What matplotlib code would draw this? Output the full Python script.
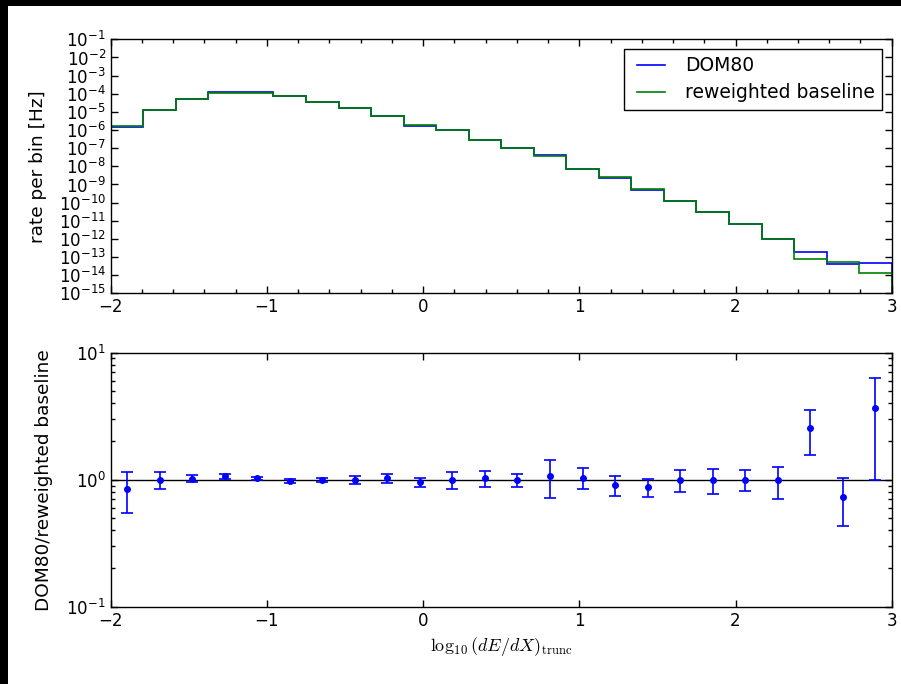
import numpy as np
import matplotlib
matplotlib.use("Agg")
import matplotlib.pyplot as plt
from matplotlib.patches import Rectangle
from matplotlib.lines import Line2D
from matplotlib.legend_handler import HandlerLine2D
from matplotlib.ticker import MultipleLocator, LogLocator, NullLocator

plt.rcParams["mathtext.fontset"] = "cm"
plt.rcParams["font.size"] = 12

# 24 bins of log10(dE/dX)_trunc between -2 and 3
bin_edges = np.linspace(-2, 3, 25)
bin_centers = 0.5 * (bin_edges[:-1] + bin_edges[1:])

dom80_rate = [1.5e-6, 1.2e-5, 5.0e-5, 1.22e-4, 1.18e-4, 7.1e-5, 3.6e-5, 1.6e-5,
              5.9e-6, 1.7e-6, 1.0e-6, 2.75e-7, 1.0e-7, 4.2e-8, 7.4e-9, 2.35e-9,
              5.1e-10, 1.17e-10, 3.2e-11, 6.3e-12, 1.0e-12, 1.9e-13, 3.9e-14, 4.6e-14]
baseline_rate = [1.7e-6, 1.2e-5, 4.9e-5, 1.15e-4, 1.15e-4, 7.2e-5, 3.6e-5, 1.6e-5,
                 5.8e-6, 1.8e-6, 1.0e-6, 2.7e-7, 1.0e-7, 3.9e-8, 7.1e-9, 2.6e-9,
                 5.9e-10, 1.17e-10, 3.2e-11, 6.3e-12, 1.0e-12, 7.4e-14, 5.4e-14, 1.26e-14]

ratio = [0.85, 1.0, 1.02, 1.06, 1.025, 0.98, 0.995, 1.0, 1.025, 0.96, 1.0, 1.025,
         0.995, 1.07, 1.04, 0.908, 0.87, 1.0, 0.995, 1.0, 0.99, 2.54, 0.73, 3.65]
ratio_err = [0.30, 0.16, 0.065, 0.045, 0.03, 0.03, 0.04, 0.07, 0.09, 0.08, 0.15, 0.15,
             0.12, 0.35, 0.2, 0.17, 0.14, 0.2, 0.22, 0.19, 0.28, 0.97, 0.3, 2.66]

fig = plt.figure(figsize=(9.01, 6.84), dpi=100)
fig.patch.set_facecolor("black")
# white page with a thin black strip on the top and left edges
fig.add_artist(Rectangle((8 / 901, 0), 1, 1 - 6 / 684, transform=fig.transFigure,
                         facecolor="white", edgecolor="none", zorder=-10))

ax1 = fig.add_axes([0.1229, 0.5712, 0.8668, 0.3713])
ax2 = fig.add_axes([0.1229, 0.1130, 0.8668, 0.3714])

for ax in (ax1, ax2):
    ax.tick_params(which="both", direction="in", top=True, right=True, labelsize=12)
    ax.tick_params(which="major", length=5, width=1)
    ax.tick_params(which="minor", length=3, width=1)
    for s in ax.spines.values():
        s.set_linewidth(1.0)

# top: rate histograms
ax1.stairs(dom80_rate, bin_edges, baseline=1e-20, color="b", lw=1.2, label="DOM80")
ax1.stairs(baseline_rate, bin_edges, baseline=1e-20, color="g", lw=1.2,
           label="reweighted baseline")
ax1.set_yscale("log")
ax1.set_ylim(1e-15, 1e-1)
ax1.set_xlim(-2, 3)
ax1.yaxis.set_major_locator(LogLocator(base=10, numticks=30))
ax1.yaxis.set_minor_locator(NullLocator())
ax1.xaxis.set_major_locator(MultipleLocator(1))
ax1.xaxis.set_minor_locator(MultipleLocator(0.2))
ax1.set_ylabel("rate per bin [Hz]", fontsize=13.3)
ax1.yaxis.set_label_coords(-0.0816, 0.5)

# legend uses plain lines as handles (stairs draw as patches)
handles = [Line2D([], [], color="b", lw=1.2), Line2D([], [], color="g", lw=1.2)]
leg = ax1.legend(handles, ["DOM80", "reweighted baseline"], loc="upper right",
                 fontsize=13.5, fancybox=False, framealpha=1, edgecolor="black",
                 handlelength=1.78, handletextpad=1.07, labelspacing=0.42, borderpad=0.4,
                 handler_map={Line2D: HandlerLine2D(xpad=0.29)})
leg.get_frame().set_linewidth(1.0)

# bottom: ratio
ax2.axhline(1.0, color="black", lw=1.0)
ax2.errorbar(bin_centers, ratio, yerr=ratio_err, fmt="o", color="b", ms=4,
             capsize=4, elinewidth=1.2, capthick=1.2)
ax2.set_yscale("log")
ax2.set_ylim(0.1, 10)
ax2.set_xlim(-2, 3)
ax2.xaxis.set_major_locator(MultipleLocator(1))
ax2.xaxis.set_minor_locator(NullLocator())
ax2.set_ylabel("DOM80/reweighted baseline", fontsize=13.3)
ax2.yaxis.set_label_coords(-0.0739, 0.5)
ax2.set_xlabel(r"$\log_{10}(dE/dX)_{\rm trunc}$", fontsize=13)

fig.savefig("out.png", dpi=100, facecolor=fig.get_facecolor())
